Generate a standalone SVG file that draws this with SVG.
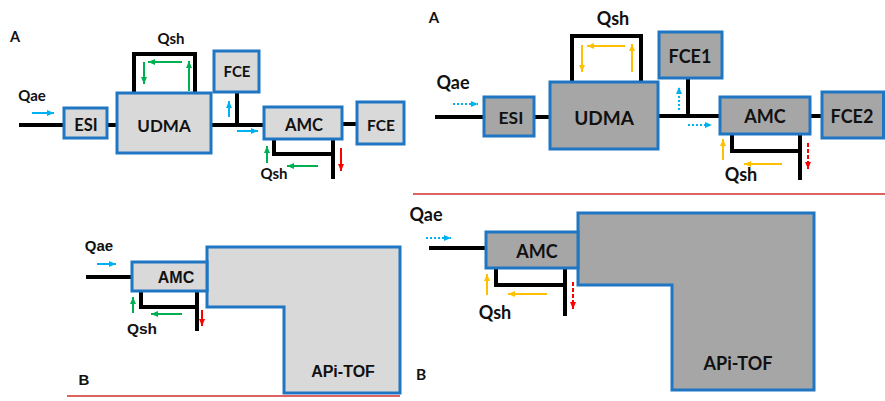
<svg xmlns="http://www.w3.org/2000/svg" width="885" height="401" viewBox="0 0 885 401">
<defs>
<marker id="hb" markerUnits="userSpaceOnUse" markerWidth="7" markerHeight="6" refX="7" refY="3" orient="auto"><path d="M0,0 L7,3 L0,6 z" fill="#00b0f0"/></marker>
<marker id="hg" markerUnits="userSpaceOnUse" markerWidth="7" markerHeight="6" refX="7" refY="3" orient="auto"><path d="M0,0 L7,3 L0,6 z" fill="#00b050"/></marker>
<marker id="hr" markerUnits="userSpaceOnUse" markerWidth="7" markerHeight="6" refX="7" refY="3" orient="auto"><path d="M0,0 L7,3 L0,6 z" fill="#ff0000"/></marker>
<marker id="ho" markerUnits="userSpaceOnUse" markerWidth="7" markerHeight="6" refX="7" refY="3" orient="auto"><path d="M0,0 L7,3 L0,6 z" fill="#ffc000"/></marker>
</defs>
<style>
.bl{fill:#d9d9d9;stroke:#1f77c4;stroke-width:3}
.br{fill:#a6a6a6;stroke:#1f77c4;stroke-width:3}
.pipe{fill:none;stroke:#000;stroke-width:4}
.ab{stroke:#00b0f0;stroke-width:2;marker-end:url(#hb)}
.ag{stroke:#00b050;stroke-width:2;marker-end:url(#hg)}
.ar{stroke:#ff0000;stroke-width:2;marker-end:url(#hr)}
.ao{stroke:#ffc000;stroke-width:2;marker-end:url(#ho)}
.dot{stroke-dasharray:2 2}
.dash{stroke-dasharray:4 2}
.tl{font-family:Lato,"Liberation Sans",sans-serif;font-weight:bold;fill:#111;text-anchor:middle}
.ta{font-family:"Liberation Sans",Arial,sans-serif;font-weight:bold;fill:#111;text-anchor:middle}
</style>
<rect width="885" height="401" fill="#fff"/>

<!-- separators -->
<line x1="413" y1="194" x2="885" y2="194" stroke="#d32f2f" stroke-width="1.3"/>
<line x1="67" y1="396" x2="400" y2="396" stroke="#d32f2f" stroke-width="1.3"/>

<g id="connectors">
<!-- top-left pipes -->
<path class="pipe" d="M19,125 H64 M107,125 H117 M211,125 H264 M237,125 V92 M342,124 H357"/>
<path class="pipe" d="M134,93 V54 H195 V93"/>
<path class="pipe" d="M274,139 V154 H333 M333,139 V179"/>
<!-- top-left arrows -->
<line class="ab" x1="32" y1="113" x2="54" y2="113"/>
<line class="ab" x1="229" y1="117" x2="229" y2="101"/>
<line class="ab" x1="237" y1="131" x2="258" y2="131"/>
<line class="ag" x1="144" y1="62" x2="144" y2="84"/>
<line class="ag" x1="182" y1="62" x2="148" y2="62"/>
<line class="ag" x1="189" y1="91" x2="189" y2="61"/>
<line class="ag" x1="267" y1="163" x2="267" y2="146"/>
<line class="ag" x1="318" y1="166" x2="287" y2="166"/>
<line class="ar" x1="341" y1="148" x2="341" y2="171"/>

<!-- top-right pipes -->
<path class="pipe" d="M435,117 H484 M534,117 H550 M658,116 H720 M688,116 V78 M810,116 H822"/>
<path class="pipe" d="M572,82 V36 H641 V82"/>
<path class="pipe" d="M732,134 V151 H800 M800,134 V180"/>
<!-- top-right arrows -->
<line class="ab dot" x1="453" y1="104" x2="478" y2="104"/>
<line class="ab dot" x1="679" y1="110" x2="679" y2="87"/>
<line class="ab dot" x1="688" y1="125" x2="712" y2="125"/>
<line class="ao" x1="582" y1="45" x2="582" y2="72"/>
<line class="ao" x1="625" y1="46" x2="587" y2="46"/>
<line class="ao" x1="632" y1="72" x2="632" y2="44"/>
<line class="ao" x1="723" y1="160" x2="723" y2="139"/>
<line class="ao" x1="782" y1="164" x2="744" y2="164"/>
<line class="ar dash" x1="808" y1="143" x2="808" y2="169"/>

<!-- bottom-left pipes -->
<path class="pipe" d="M86,277 H132"/>
<path class="pipe" d="M141,291 V307 H197 M197,291 V331"/>
<line class="ab" x1="97" y1="264" x2="116" y2="264" stroke-width="1.5"/>
<line class="ag" x1="133" y1="313" x2="133" y2="297" stroke-width="1.5"/>
<line class="ag" x1="182" y1="314" x2="151" y2="314" stroke-width="1.5"/>
<line class="ar" x1="202" y1="310" x2="202" y2="326" stroke-width="1.5"/>

<!-- bottom-right pipes -->
<path class="pipe" d="M429,248 H486"/>
<path class="pipe" d="M496,268 V285 H565 M565,268 V316"/>
<line class="ab dot" x1="426" y1="238" x2="451" y2="238"/>
<line class="ao" x1="487" y1="295" x2="487" y2="274"/>
<line class="ao" x1="547" y1="294" x2="508" y2="294"/>
<line class="ar dash" x1="573" y1="282" x2="573" y2="309"/>
</g>

<!-- top-left nodes -->
<g id="tl-esi"><rect class="bl" x="64" y="108" width="43" height="30"/><text class="tl" x="86" y="131" font-size="16.5">ESI</text></g>
<g id="tl-udma"><rect class="bl" x="117" y="93" width="94" height="60"/><text class="tl" x="164" y="132" font-size="17">UDMA</text></g>
<g id="tl-fce1"><rect class="bl" x="214" y="51" width="45" height="41"/><text class="tl" x="237" y="77" font-size="15">FCE</text></g>
<g id="tl-amc"><rect class="bl" x="264" y="107" width="78" height="32"/><text class="tl" x="304" y="131" font-size="16.5">AMC</text></g>
<g id="tl-fce2"><rect class="bl" x="357" y="102" width="47" height="42"/><text class="tl" x="381" y="131" font-size="15.5">FCE</text></g>
<g id="tl-labels">
<text class="tl" x="15" y="42" font-size="14.5">A</text>
<text class="tl" x="171" y="44" font-size="15">Qsh</text>
<text class="tl" x="32" y="101" font-size="15">Qae</text>
<text class="tl" x="274" y="179" font-size="15">Qsh</text>
</g>

<!-- top-right nodes -->
<g id="tr-esi"><rect class="br" x="484" y="97" width="50" height="39"/><text class="tl" x="511" y="124" font-size="17.5">ESI</text></g>
<g id="tr-udma"><rect class="br" x="550" y="82" width="108" height="67"/><text class="tl" x="604" y="125" font-size="19">UDMA</text></g>
<g id="tr-fce1"><rect class="br" x="659" y="32" width="63" height="46"/><text class="tl" x="690" y="63" font-size="18">FCE1</text></g>
<g id="tr-amc"><rect class="br" x="720" y="97" width="90" height="37"/><text class="tl" x="765" y="123" font-size="18">AMC</text></g>
<g id="tr-fce2"><rect class="br" x="822" y="92" width="61.5" height="46"/><text class="tl" x="852" y="123" font-size="18">FCE2</text></g>
<g id="tr-labels">
<text class="tl" x="434" y="23" font-size="15">A</text>
<text class="tl" x="613" y="25" font-size="18">Qsh</text>
<text class="tl" x="453" y="89" font-size="18">Qae</text>
<text class="tl" x="741" y="181" font-size="18">Qsh</text>
</g>

<!-- bottom-left nodes -->
<g id="bl-api"><path class="bl" d="M207,247 H400 V393 H284 V307 H207 Z"/><text class="ta" x="343" y="377" font-size="16">APi-TOF</text></g>
<g id="bl-amc"><rect class="bl" x="132" y="262" width="75" height="29"/><text class="ta" x="176" y="283" font-size="16">AMC</text></g>
<g id="bl-labels">
<text class="ta" x="99" y="251" font-size="15">Qae</text>
<text class="ta" x="142" y="334" font-size="15.5">Qsh</text>
<text class="ta" x="84" y="385" font-size="15">B</text>
</g>

<!-- bottom-right nodes -->
<g id="br-api"><path class="br" d="M578,213 H814 V390 H672 V285 H578 Z"/><text class="tl" x="738" y="370" font-size="18">APi-TOF</text></g>
<g id="br-amc"><rect class="br" x="486" y="232" width="92" height="36"/><text class="tl" x="537" y="258" font-size="18">AMC</text></g>
<g id="br-labels">
<text class="tl" x="426" y="221" font-size="18">Qae</text>
<text class="tl" x="495" y="319" font-size="18">Qsh</text>
<text class="tl" x="421" y="380" font-size="15.5">B</text>
</g>
</svg>
